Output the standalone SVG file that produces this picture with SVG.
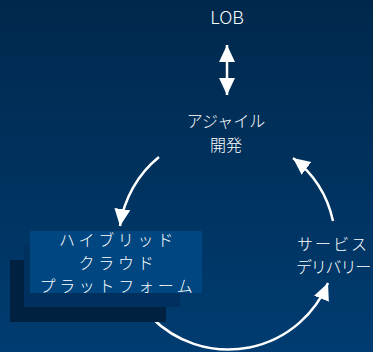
<svg xmlns="http://www.w3.org/2000/svg" width="373" height="352" viewBox="0 0 373 352">
<defs>
<linearGradient id="bg" x1="0" y1="0" x2="0" y2="1">
<stop offset="0" stop-color="#00284c"/>
<stop offset="1" stop-color="#003c71"/>
</linearGradient>
<marker id="ah" markerUnits="userSpaceOnUse" markerWidth="18" markerHeight="18" viewBox="0 0 18 18" refX="17" refY="9" orient="auto-start-reverse">
<path d="M0,1 L17,9 L0,17 Z" fill="#fff"/>
</marker>
<style>
.t{font-family:"Noto Sans CJK JP","Noto Sans",sans-serif;font-weight:300;fill:#fff;text-anchor:middle}
.c{fill:none;stroke:#fff;stroke-width:2.5}
</style>
</defs>
<rect width="373" height="352" fill="url(#bg)"/>
<g id="connectors">
<path class="c" d="M227,45 L227,95" marker-start="url(#ah)" marker-end="url(#ah)"/>
<path class="c" d="M159,157 A108,108 0 0 0 120,226" marker-end="url(#ah)"/>
<path class="c" d="M333,221 A108,108 0 0 0 293,158" marker-end="url(#ah)"/>
<path class="c" d="M152,318 A108,108 0 0 0 328,283" marker-end="url(#ah)"/>
</g>
<g id="lob">
<text class="t" x="227" y="24" font-size="18">LOB</text>
</g>
<g id="agile">
<text class="t" x="226" y="127" font-size="16">アジャイル</text>
<text class="t" x="226" y="151" font-size="16">開発</text>
</g>
<g id="delivery">
<text class="t" x="333" y="250" font-size="16" letter-spacing="2">サービス</text>
<text class="t" x="333" y="273" font-size="16" letter-spacing="-1.2">デリバリー</text>
</g>
<g id="platform">
<rect x="10" y="260" width="156" height="62" fill="#00213f"/>
<rect x="24" y="245" width="156" height="62" fill="#00315e"/>
<rect x="30" y="231" width="172" height="62" fill="#004680"/>
<text class="t" x="118" y="246" font-size="16" letter-spacing="3.7">ハイブリッド</text>
<text class="t" x="118" y="269" font-size="16" letter-spacing="3.7">クラウド</text>
<text class="t" x="118" y="292" font-size="16" letter-spacing="3.7">プラットフォーム</text>
</g>
</svg>
